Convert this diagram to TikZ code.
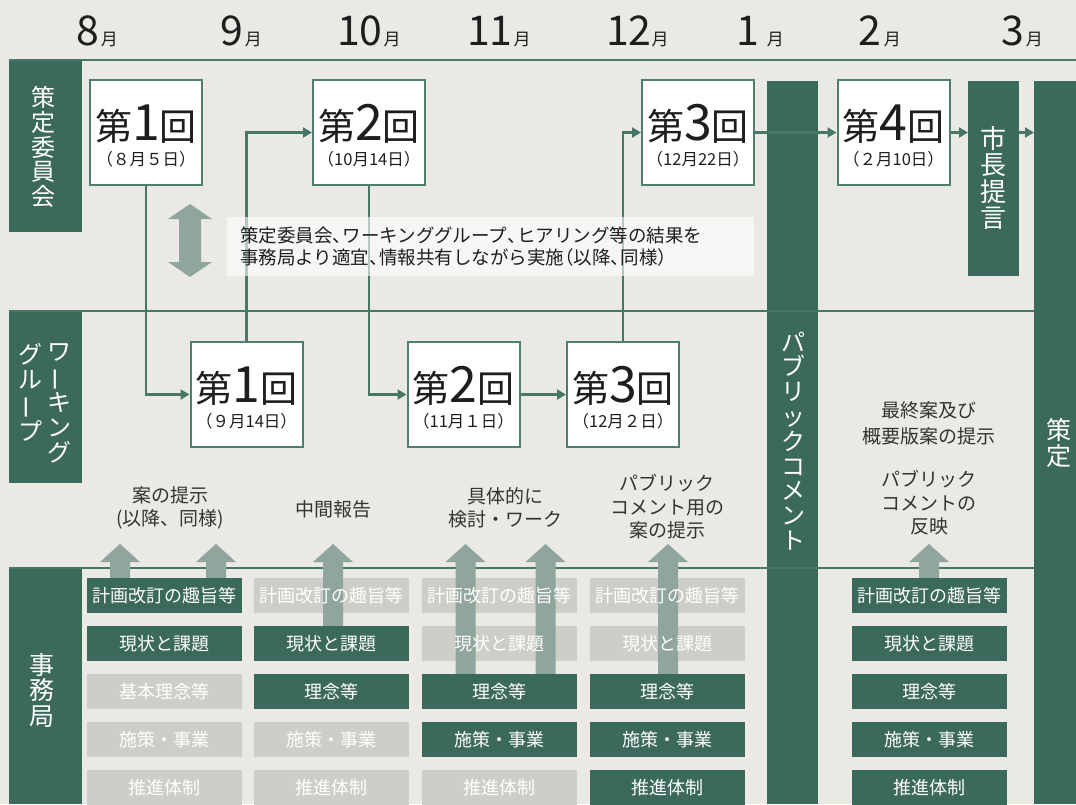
\documentclass[tikz,border=0pt]{standalone}
\usepackage{fontspec}
\usepackage{graphicx}
\setmainfont{Noto Sans CJK JP}
\newfontfamily\vfont{Noto Sans CJK JP}
\usetikzlibrary{arrows.meta}
\definecolor{bg}{HTML}{EBE9E4}
\definecolor{dkg}{HTML}{3B695B}
\definecolor{lng}{HTML}{477767}
\definecolor{bdg}{HTML}{4E7E6D}
\definecolor{lgt}{HTML}{CECEC8}
\definecolor{garr}{HTML}{8FA59D}
\definecolor{txt}{HTML}{1E1E1E}
\definecolor{txtb}{HTML}{333333}
\newcommand{\fs}[1]{\fontsize{#1}{#1}\selectfont}
\newcommand{\vbar}{\rotatebox[origin=c]{90}{ー}}
\newcommand{\hc}{\makebox[0.55em][l]{、}}
\newcommand{\hpl}{\makebox[0.5em][r]{（}}
\newcommand{\hpr}{\makebox[0.5em][l]{）}}
\newcommand{\upArr}[2]{\fill[garr] ({#1-10},#2) -- ({#1-10},562) -- ({#1-20},562) -- (#1,544) -- ({#1+20},562) -- ({#1+10},562) -- ({#1+10},#2) -- cycle;}
\tikzset{
  bar/.style={fill=dkg, draw=none, inner sep=0pt, anchor=north west},
  vtext/.style={text=white, align=center, inner sep=0pt, font=\vfont\fontsize{24}{24.8}\selectfont},
  hline/.style={draw=lng, line width=2pt},
  cbox/.style={draw=bdg, line width=2pt, fill=white, minimum width=112pt, minimum height=105pt, inner sep=0pt},
  conn/.style={draw=lng, line width=2.5pt, -{Triangle[length=9pt,width=10pt]}},
  month/.style={anchor=base west, inner sep=0pt, text=txt},
  big/.style={anchor=base, inner sep=0pt, text=txt},
  sub/.style={anchor=base, inner sep=0pt, text=txt, font=\fs{16.5}},
  outtxt/.style={align=center, text=txtb, font=\fontsize{19}{23.5}\selectfont, inner sep=0pt},
  dbox/.style={fill=dkg, minimum width=155pt, minimum height=35pt, inner sep=0pt, text=white, font=\fs{18}},
  lbox/.style={fill=lgt, minimum width=155pt, minimum height=35pt, inner sep=0pt},
  btext/.style={inner sep=0pt, text=white, font=\fs{18}},
  notebox/.style={fill=white, fill opacity=0.6, text opacity=1, minimum width=527pt, minimum height=59pt, text width=501pt, inner xsep=13pt, inner ysep=0pt, align=left, text=txt, font=\fontsize{18.5}{22}\selectfont}
}
\begin{document}
\begin{tikzpicture}[x=1pt,y=-1pt]
\useasboundingbox (0,0) rectangle (1076,804);
\fill[bg] (0,0) rectangle (1076,804);

% months
\node[month] (m8) at (76,45) {{\fs{41}8}\hspace{2pt}{\fs{17}月}};
\node[month] (m9) at (220,45) {{\fs{41}9}\hspace{2pt}{\fs{17}月}};
\node[month] (m10) at (337,45) {{\fs{41}10}\hspace{1pt}{\fs{17}月}};
\node[month] (m11) at (467,45) {{\fs{41}11}\hspace{1pt}{\fs{17}月}};
\node[month] (m12) at (606,45) {{\fs{41}12}\hspace{0pt}{\fs{17}月}};
\node[month] (m1) at (736,45) {{\fs{41}1}\hspace{8pt}{\fs{17}月}};
\node[month] (m2) at (858,45) {{\fs{41}2}\hspace{3pt}{\fs{17}月}};
\node[month] (m3) at (1001,45) {{\fs{41}3}\hspace{2pt}{\fs{17}月}};

% bars
\node[bar, minimum width=73pt, minimum height=172pt] (lbA) at (9,60) {};
\node[bar, minimum width=73pt, minimum height=172pt] (lbB) at (9,311) {};
\node[bar, minimum width=73pt, minimum height=236pt] (lbC) at (9,568) {};
\node[bar, minimum width=51pt, minimum height=723pt] (pc) at (767,81) {};
\node[bar, minimum width=51pt, minimum height=195pt] (mayor) at (968,81) {};
\node[bar, minimum width=42pt, minimum height=723pt] (sak) at (1034,81) {};

% separator lines
\draw[hline] (lbA.north west) -- (1076,60);
\draw[hline] (lbB.north west) -- (sak.west |- lbB.north);
\draw[hline] (lbC.north west) -- (sak.west |- lbC.north);

% vertical texts
\node[vtext] (tA) at (43,147) {策\\定\\委\\員\\会};
\node[vtext, anchor=north] (tB1) at (59,343) {ワ\\\vbar\\キ\\ン\\グ};
\node[vtext, anchor=north] (tB2) at (30,343) {グ\\ル\\\vbar\\プ};
\node[vtext, font=\vfont\fontsize{25}{25.5}\selectfont] (tC) at (42,690) {事\\務\\局};
\node[vtext] (tpc) at (793,441) {パ\\ブ\\リ\\ッ\\ク\\コ\\メ\\ン\\ト};
\node[vtext, font=\vfont\fontsize{26}{26.5}\selectfont] (tmy) at (993,178) {市\\長\\提\\言};
\node[vtext, font=\vfont\fontsize{25}{25.5}\selectfont] (tsk) at (1059,443) {策\\定};

% committee / WG boxes
\node[cbox] (c1) at (146,132.5) {};
\node[cbox] (c2) at (369,132.5) {};
\node[cbox] (c3) at (698,132.5) {};
\node[cbox] (c4) at (893.5,132.5) {};
\node[cbox] (w1) at (246.5,394.5) {};
\node[cbox] (w2) at (463.5,394.5) {};
\node[cbox] (w3) at (623,394.5) {};

% connectors
\draw[conn] (c1.south) |- (w1.west);
\draw[conn] (w1.north) |- (c2.west);
\draw[conn] (c2.south) |- (w2.west);
\draw[conn] (w2.east) -- (w3.west);
\draw[conn] (w3.north) |- (c3.west);
\draw[conn] (c3.east) -- (c4.west);
\draw[conn] (c4.east) -- (c4.east -| mayor.west);
\draw[conn] (c4.east -| mayor.east) -- (c4.east -| sak.west);

% box texts
\node[big] (c1a) at ([yshift=-7.5pt]c1.center) {{\fs{37}第}{\fs{50}1}{\fs{37}回}};
\node[sub] (c1b) at ([yshift=-33pt]c1.center) {（８月５日）};
\node[big] (c2a) at ([yshift=-7.5pt]c2.center) {{\fs{37}第}{\fs{50}2}{\fs{37}回}};
\node[sub] (c2b) at ([yshift=-33pt]c2.center) {（10月14日）};
\node[big] (c3a) at ([yshift=-7.5pt]c3.center) {{\fs{37}第}{\fs{50}3}{\fs{37}回}};
\node[sub] (c3b) at ([yshift=-33pt]c3.center) {（12月22日）};
\node[big] (c4a) at ([yshift=-7.5pt]c4.center) {{\fs{37}第}{\fs{50}4}{\fs{37}回}};
\node[sub] (c4b) at ([yshift=-33pt]c4.center) {（２月10日）};
\node[big] (w1a) at ([yshift=-7.5pt]w1.center) {{\fs{37}第}{\fs{50}1}{\fs{37}回}};
\node[sub] (w1b) at ([yshift=-33pt]w1.center) {（９月14日）};
\node[big] (w2a) at ([yshift=-7.5pt]w2.center) {{\fs{37}第}{\fs{50}2}{\fs{37}回}};
\node[sub] (w2b) at ([yshift=-33pt]w2.center) {（11月１日）};
\node[big] (w3a) at ([yshift=-7.5pt]w3.center) {{\fs{37}第}{\fs{50}3}{\fs{37}回}};
\node[sub] (w3b) at ([yshift=-33pt]w3.center) {（12月２日）};

% note box
\node[notebox] (note) at (490.5,246.5) {策定委員会\hc ワーキンググループ\hc ヒアリング等の結果を\\事務局より適宜\hc 情報共有しながら実施\hpl 以降\hc 同様\hpr};

% double arrow
\fill[garr] (190,204) -- (212,219) -- (201,219) -- (201,262) -- (212,262) -- (190,277) -- (168,262) -- (179,262) -- (179,219) -- (168,219) -- cycle;

% WG outputs
\node[outtxt] (o1) at (170,508) {案の提示\\(以降、同様)};
\node[outtxt] (o2) at (333,509) {中間報告};
\node[outtxt] (o3) at (505,508) {具体的に\\検討・ワーク};
\node[outtxt] (o4) at (667,507) {パブリック\\コメント用の\\案の提示};
\node[outtxt, font=\fontsize{19}{26}\selectfont] (o5) at (929,423) {最終案及び\\概要版案の提示};
\node[outtxt] (o6) at (929,503) {パブリック\\コメントの\\反映};

% secretariat light boxes
\node[lbox] (l13) at (164.5,691.5) {};
\node[lbox] (l14) at (164.5,739.5) {};
\node[lbox] (l15) at (164.5,787.5) {};
\node[lbox] (l21) at (331.5,595.5) {};
\node[lbox] (l24) at (331.5,739.5) {};
\node[lbox] (l25) at (331.5,787.5) {};
\node[lbox] (l31) at (499.5,595.5) {};
\node[lbox] (l32) at (499.5,643.5) {};
\node[lbox] (l35) at (499.5,787.5) {};
\node[lbox] (l41) at (667.5,595.5) {};
\node[lbox] (l42) at (667.5,643.5) {};

% up arrows
\upArr{120}{578}
\upArr{216}{578}
\upArr{333}{626}
\upArr{465.5}{674}
\upArr{545.5}{674}
\upArr{668}{674}
\upArr{929}{578}

% light box texts
\node[btext] (t13) at (l13) {基本理念等};
\node[btext] (t14) at (l14) {施策・事業};
\node[btext] (t15) at (l15) {推進体制};
\node[btext] (t21) at (l21) {計画改訂の趣旨等};
\node[btext] (t24) at (l24) {施策・事業};
\node[btext] (t25) at (l25) {推進体制};
\node[btext] (t31) at (l31) {計画改訂の趣旨等};
\node[btext] (t32) at (l32) {現状と課題};
\node[btext] (t35) at (l35) {推進体制};
\node[btext] (t41) at (l41) {計画改訂の趣旨等};
\node[btext] (t42) at (l42) {現状と課題};

% dark boxes
\node[dbox] (d11) at (164.5,595.5) {計画改訂の趣旨等};
\node[dbox] (d12) at (164.5,643.5) {現状と課題};
\node[dbox] (d22) at (331.5,643.5) {現状と課題};
\node[dbox] (d23) at (331.5,691.5) {理念等};
\node[dbox] (d33) at (499.5,691.5) {理念等};
\node[dbox] (d34) at (499.5,739.5) {施策・事業};
\node[dbox] (d43) at (667.5,691.5) {理念等};
\node[dbox] (d44) at (667.5,739.5) {施策・事業};
\node[dbox] (d45) at (667.5,787.5) {推進体制};
\node[dbox] (d51) at (929.5,595.5) {計画改訂の趣旨等};
\node[dbox] (d52) at (929.5,643.5) {現状と課題};
\node[dbox] (d53) at (929.5,691.5) {理念等};
\node[dbox] (d54) at (929.5,739.5) {施策・事業};
\node[dbox] (d55) at (929.5,787.5) {推進体制};
\end{tikzpicture}
\end{document}
